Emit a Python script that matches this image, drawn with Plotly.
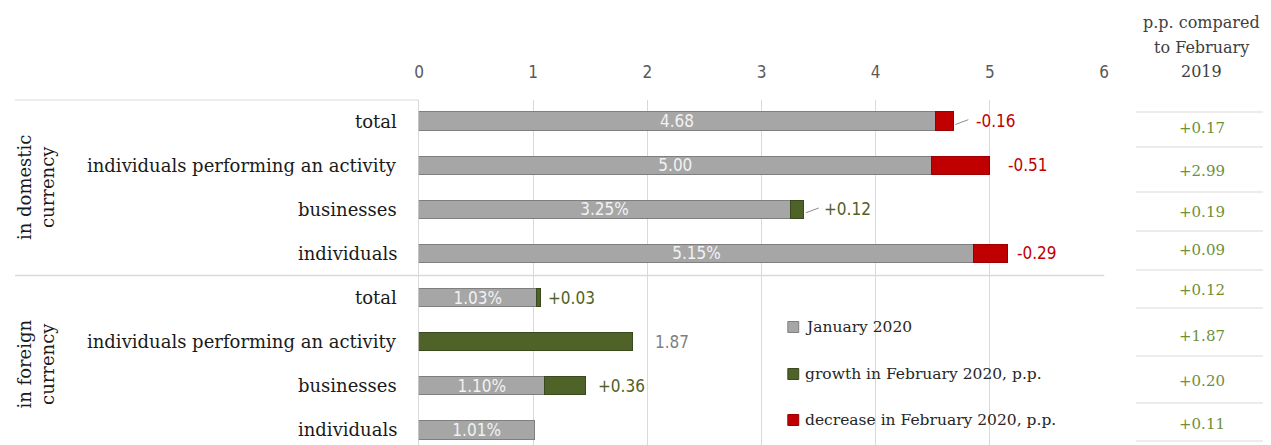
import plotly.graph_objects as go

# ---------------- data ----------------
categories = ["total", "individuals performing an activity", "businesses", "individuals",
              "total", "individuals performing an activity", "businesses", "individuals"]
groups = ["in domestic<br>currency", "in foreign<br>currency"]
january_2020 = [4.68, 5.00, 3.25, 5.15, 1.03, 0.00, 1.10, 1.01]
growth_feb = [0.00, 0.00, 0.12, 0.00, 0.03, 1.87, 0.36, 0.00]
decrease_feb = [0.16, 0.51, 0.00, 0.29, 0.00, 0.00, 0.00, 0.00]
inside_labels = ["4.68", "5.00", "3.25%", "5.15%", "1.03%", "", "1.10%", "1.01%"]
end_labels = ["-0.16", "-0.51", "+0.12", "-0.29", "+0.03", "1.87", "+0.36", ""]
yoy_labels = ["+0.17", "+2.99", "+0.19", "+0.09", "+0.12", "+1.87", "+0.20", "+0.11"]
series_names = ["January 2020", "growth in February 2020, p.p.", "decrease in February 2020, p.p."]
x_ticks = [0, 1, 2, 3, 4, 5, 6]
header_lines = ["p.p. compared", "to February", "2019"]

# ---------------- style ----------------
# the page body has an 8px margin; reference pixel coords are converted with it
OFF = 8
W, H = 1271 - OFF, 445 - OFF
GRAY, GRAY_EDGE = "#a6a6a6", "#7f7f7f"
GREEN, GREEN_EDGE = "#4f6228", "#3b4a1e"
RED, RED_EDGE = "#c00000", "#9a0000"
GRID = "#d9d9d9"
SERIF = "DejaVu Serif, Liberation Serif, serif"
COND = "DejaVu Sans Condensed, Liberation Sans Narrow, DejaVu Sans, sans-serif"


def px(xp):
    return (xp - OFF) / W


def py(yp):
    return 1 - (yp - OFF) / H


label_gap_px = [21, 16, 18, 8, 6, 20, 10, 0]
leader_rows = [0, 2]
table_y_px = [128, 171, 212, 250, 290, 336, 381, 424]
table_line_px = [112, 147, 192, 231, 270, 308, 356, 403, 441]
legend_y_px = [327, 374, 420]

rows = list(range(len(categories)))
gray_part = [round(j - d, 2) for j, d in zip(january_2020, decrease_feb)]
bar_ends = [g + gr + d for g, gr, d in zip(gray_part, growth_feb, decrease_feb)]


def nz(v):
    return [x if x > 0 else None for x in v]


fig = go.Figure()
fig.add_trace(go.Bar(
    y=rows, x=nz(gray_part), orientation="h", name=series_names[0],
    marker=dict(color=GRAY, line=dict(color=GRAY_EDGE, width=1)),
    text=inside_labels, textposition="inside", insidetextanchor="middle",
    constraintext="none",
    textfont=dict(family=COND, size=17, color="#f2f2f2"), width=0.41,
    cliponaxis=False, showlegend=False))
fig.add_trace(go.Bar(
    y=rows, x=nz(growth_feb), orientation="h", name=series_names[1],
    marker=dict(color=GREEN, line=dict(color=GREEN_EDGE, width=1)),
    width=0.41, showlegend=False))
fig.add_trace(go.Bar(
    y=rows, x=nz(decrease_feb), orientation="h", name=series_names[2],
    marker=dict(color=RED, line=dict(color=RED_EDGE, width=1)),
    width=0.41, showlegend=False))

x0px, x1px = 417, 1108
top_px = 100
row0_px, row_step = 121, 44.14
y_top = (top_px - row0_px) / row_step
y_bot = (445 - row0_px) / row_step

annotations = []
shapes = []

# end labels
for i in rows:
    if not end_labels[i]:
        continue
    if end_labels[i].startswith("-"):
        col = RED
    elif end_labels[i].startswith("+"):
        col = GREEN
    else:
        col = "#7f7f7f"
    annotations.append(dict(
        x=bar_ends[i], y=i, xref="x", yref="y", text=end_labels[i], showarrow=False,
        xanchor="left", yanchor="middle", xshift=label_gap_px[i],
        font=dict(family=COND, size=17, color=col)))

# leader lines
for i in leader_rows:
    shapes.append(dict(type="line", xref="x", yref="y", xsizemode="pixel", xanchor=bar_ends[i],
                       x0=2, x1=15, y0=i + 0.08, y1=i - 0.03,
                       line=dict(color="#8c8c8c", width=1)))

# category labels
for i in rows:
    annotations.append(dict(
        x=px(x0px - 20), y=i, xref="paper", yref="y", text=categories[i], showarrow=False,
        xanchor="right", yanchor="middle",
        font=dict(family=SERIF, size=18, color="#1a1a1a")))

# group labels
for gi, g in enumerate(groups):
    annotations.append(dict(
        x=px(31), y=1.5 + 4 * gi, xref="paper", yref="y", text=g, showarrow=False,
        textangle=-90, xanchor="center", yanchor="middle",
        font=dict(family=SERIF, size=18, color="#1a1a1a")))

# header
for k, t in enumerate(header_lines):
    annotations.append(dict(
        x=px(1206), y=py(22 + 25 * k), xref="paper", yref="paper", text=t,
        showarrow=False, xanchor="center", yanchor="middle",
        font=dict(family=SERIF, size=16, color="#404040")))

# right table
for i in rows:
    annotations.append(dict(
        x=px(1206), y=py(table_y_px[i]), xref="paper", yref="paper", text=yoy_labels[i],
        showarrow=False, xanchor="center", yanchor="middle",
        font=dict(family=SERIF, size=15, color="#6f8f3a")))
for ly in table_line_px:
    shapes.append(dict(type="line", xref="paper", yref="paper", x0=px(1140), x1=1.0,
                       y0=py(ly), y1=py(ly), line=dict(color=GRID, width=1)))

# frame lines
shapes.append(dict(type="line", xref="paper", yref="paper", x0=px(10), x1=px(x0px),
                   y0=py(top_px), y1=py(top_px), line=dict(color=GRID, width=1)))
shapes.append(dict(type="line", xref="paper", yref="y", x0=px(10), x1=px(x1px),
                   y0=3.5, y1=3.5, line=dict(color=GRID, width=1.5)))

# manual legend
legend_cols = [(GRAY, GRAY_EDGE), (GREEN, GREEN_EDGE), (RED, RED_EDGE)]
for k, name in enumerate(series_names):
    cy = legend_y_px[k]
    shapes.append(dict(type="rect", xref="paper", yref="paper",
                       x0=px(789), x1=px(800), y0=py(cy + 5.5), y1=py(cy - 5.5),
                       fillcolor=legend_cols[k][0], line=dict(color=legend_cols[k][1], width=1)))
    annotations.append(dict(
        x=px(804), y=py(cy), xref="paper", yref="paper", text=name, showarrow=False,
        xanchor="left", yanchor="middle",
        font=dict(family=SERIF, size=15.5, color="#262626")))

fig.update_layout(
    width=W, height=H, margin=dict(l=0, r=0, t=0, b=0),
    paper_bgcolor="white", plot_bgcolor="white",
    barmode="stack", bargap=0.5,
    annotations=annotations, shapes=shapes,
    xaxis=dict(domain=[px(x0px), px(x1px)], range=[-0.002, 6.002], side="top",
               tickvals=x_ticks, ticktext=[str(t) for t in x_ticks],
               showgrid=True, gridcolor=GRID, gridwidth=1,
               zeroline=True, zerolinecolor=GRID, zerolinewidth=1,
               ticks="outside", ticklen=14, tickcolor="rgba(0,0,0,0)",
               tickfont=dict(family=COND, size=17, color="#595959"), fixedrange=True),
    yaxis=dict(domain=[0, py(top_px)], range=[y_bot, y_top], showgrid=False,
               zeroline=False, showticklabels=False, fixedrange=True),
)

fig.write_html("out.html")
